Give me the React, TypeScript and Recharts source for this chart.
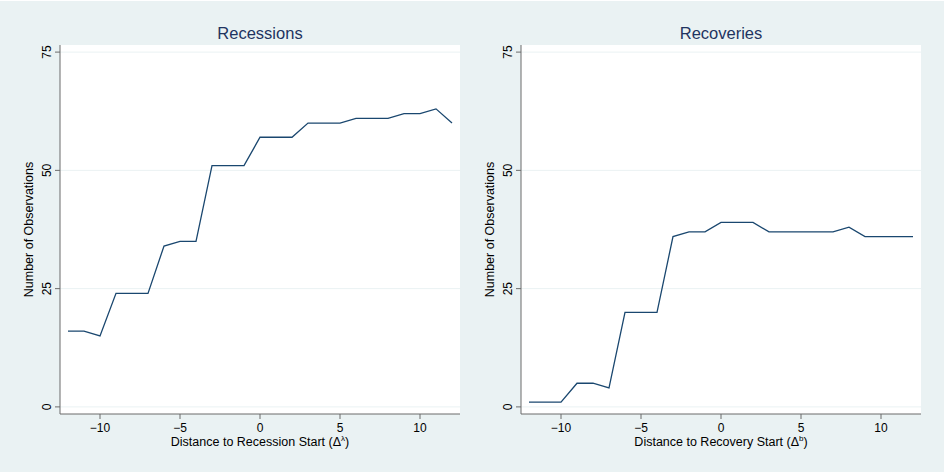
import React from "react";
import { LineChart, Line, XAxis, YAxis, CartesianGrid } from "recharts";

const distances = [-12, -11, -10, -9, -8, -7, -6, -5, -4, -3, -2, -1, 0, 1, 2, 3, 4, 5, 6, 7, 8, 9, 10, 11, 12];
const recessionCounts = [16, 16, 15, 24, 24, 24, 34, 35, 35, 51, 51, 51, 57, 57, 57, 60, 60, 60, 61, 61, 61, 62, 62, 63, 60];
const recoveryCounts = [1, 1, 1, 5, 5, 4, 20, 20, 20, 36, 37, 37, 39, 39, 39, 37, 37, 37, 37, 37, 38, 36, 36, 36, 36];
const xTicks = [-10, -5, 0, 5, 10];
const yTicks = [0, 25, 50, 75];
const panelTitles = ["Recessions", "Recoveries"];
const xTitles = ["Distance to Recession Start (Δ", "Distance to Recovery Start (Δ"];
const xSups = ["λ", "b"];
const yTitle = "Number of Observations";

const FONT = '"Liberation Sans", Arial, Helvetica, sans-serif';
const BG = "#eaf2f3";
const LINE = "#1a476f";
const AXIS = "#6b6b6b";
const TITLE = "#1f3461";

const recessionData = distances.map((d, i) => ({ d, v: recessionCounts[i] }));
const recoveryData = distances.map((d, i) => ({ d, v: recoveryCounts[i] }));

const YTick = (props: any) => {
  const { x, y, payload } = props;
  return (
    <text
      x={x}
      y={y}
      transform={`rotate(-90, ${x}, ${y})`}
      textAnchor="middle"
      fontSize={12}
      fontFamily={FONT}
      fill="#000"
    >
      {payload.value}
    </text>
  );
};

const XTick = (props: any) => {
  const { x, y, payload } = props;
  const s = String(payload.value).replace("-", "\u2212");
  return (
    <text x={x} y={y + 10} textAnchor="middle" fontSize={12} fontFamily={FONT} fill="#000">
      {s}
    </text>
  );
};

function Panel({ data, idx }: { data: { d: number; v: number }[]; idx: number }) {
  return (
    <LineChart
      width={470}
      height={475}
      data={data}
      margin={{ top: 45, right: 10, bottom: 21, left: 20 }}
    >
      <CartesianGrid vertical={false} horizontal={true} stroke={BG} fill="#ffffff" horizontalValues={yTicks} />
      <XAxis
        dataKey="d"
        type="number"
        domain={[-12.5, 12.5]}
        ticks={xTicks}
        allowDataOverflow
        height={40}
        stroke={AXIS}
        tickLine={{ stroke: AXIS }}
        tickSize={5}
        tickMargin={3}
        tick={<XTick />}
        label={{
          content: (p: any) => {
            const vb = p.viewBox || { x: 60, width: 400 };
            const cx = vb.x + vb.width / 2;
            return (
              <text x={cx} y={446} textAnchor="middle" fontSize={12.5} fontFamily={FONT} fill="#000">
                <tspan>{xTitles[idx]}</tspan>
                <tspan dy={-5} fontSize={8}>{xSups[idx]}</tspan>
                <tspan dy={5}>)</tspan>
              </text>
            );
          },
        }}
      />
      <YAxis
        type="number"
        domain={[-1.5, 76.5]}
        ticks={yTicks}
        allowDataOverflow
        width={40}
        stroke={AXIS}
        tickLine={{ stroke: AXIS }}
        tickSize={5}
        tickMargin={4}
        tick={<YTick />}
        label={{
          content: (p: any) => {
            const vb = p.viewBox || { y: 45, height: 369 };
            const cy = vb.y + vb.height / 2;
            return (
              <text
                x={33}
                y={cy}
                transform={`rotate(-90, 33, ${cy})`}
                textAnchor="middle"
                fontSize={12.5}
                fontFamily={FONT}
                fill="#000"
              >
                {yTitle}
              </text>
            );
          },
        }}
      />
      <Line
        type="linear"
        dataKey="v"
        stroke={LINE}
        strokeWidth={1.3}
        dot={false}
        activeDot={false}
        isAnimationActive={false}
      />
    </LineChart>
  );
}

export default function App() {
  return (
    <div style={{ position: "absolute", left: 0, top: 0, width: 946, height: 475, background: "#ffffff" }}>
      <div style={{ position: "absolute", left: 0, top: 1, width: 944, height: 471, background: BG }} />
      {[recessionData, recoveryData].map((data, idx) => (
        <div key={idx} style={{ position: "absolute", left: idx === 0 ? 0 : 461, top: 0, width: 470, height: 475 }}>
          <div
            style={{
              position: "absolute",
              left: 60,
              top: 23,
              width: 400,
              textAlign: "center",
              fontFamily: FONT,
              fontSize: 16.5,
              lineHeight: "20px",
              color: TITLE,
            }}
          >
            {panelTitles[idx]}
          </div>
          <Panel data={data} idx={idx} />
        </div>
      ))}
    </div>
  );
}
